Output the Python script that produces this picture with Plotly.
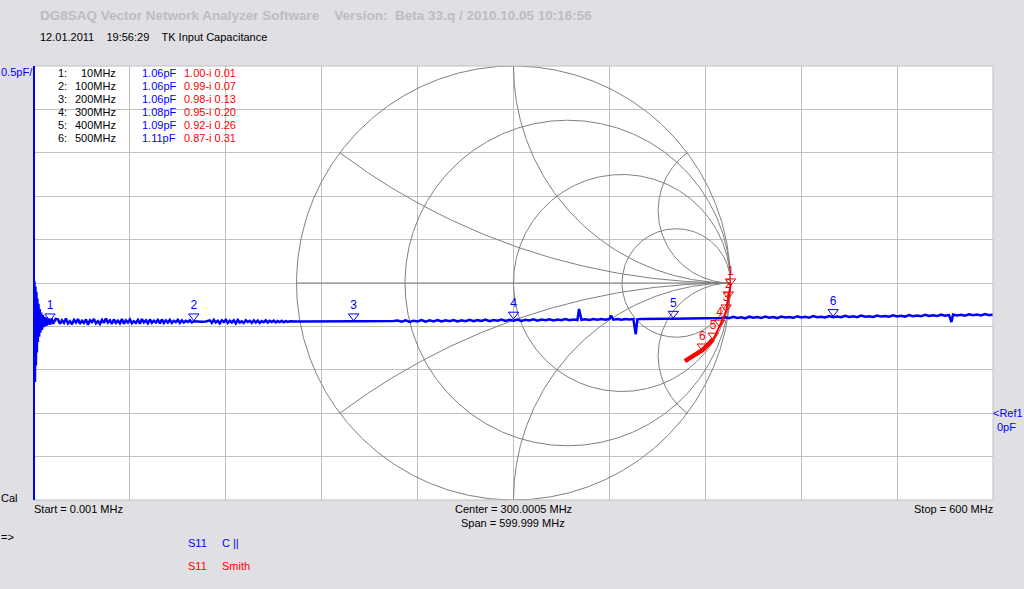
import numpy as np
import plotly.graph_objects as go

# C|| trace in pF (blue): each segment is (start MHz, step MHz, readings)
cap_segments = [
    (0.001, 0, [1.06]),
    (0.3, 0.3, [1.52, 0.36, 1.46, 0.55, 1.40, 0.70, 1.32, 0.82]),
    (2.8, 0.4, [1.26, 0.88, 1.20, 0.93]),
    (4.5, 0.5, [1.16, 0.96, 1.13, 0.99, 1.11, 1.00, 1.10, 1.01]),
    (9, 1, [1.09, 1.02, 1.09, 1.03]),
    (13.5, 0, [1.085]),
    (15, 1.25, [1.08, 1.03, 1.07, 1.04, 1.09, 1.035, 1.06, 1.025, 1.075, 1.045,
                1.085, 1.03, 1.065, 1.04, 1.08, 1.02, 1.07, 1.05, 1.085, 1.035,
                1.06, 1.03, 1.075, 1.04, 1.09, 1.045, 1.07, 1.03, 1.08, 1.04,
                1.065, 1.035, 1.085, 1.03, 1.07, 1.045, 1.08, 1.035, 1.06, 1.04,
                1.075, 1.03, 1.085, 1.045, 1.07, 1.035, 1.08, 1.04, 1.065, 1.045,
                1.075, 1.035, 1.08, 1.04, 1.07, 1.045, 1.075, 1.04, 1.065, 1.05,
                1.075, 1.04, 1.07, 1.045, 1.065, 1.05, 1.07, 1.045, 1.06]),
    (102.5, 2.5, [1.056, 1.055, 1.057]),
    (110, 1.25, [1.07, 1.04, 1.075, 1.045, 1.065, 1.035, 1.07, 1.05, 1.075, 1.04,
                 1.065, 1.045, 1.07, 1.035, 1.075, 1.045, 1.06, 1.04, 1.07, 1.05,
                 1.065, 1.04, 1.07, 1.045, 1.068, 1.04, 1.062, 1.048, 1.07, 1.045,
                 1.064, 1.05, 1.066, 1.045, 1.062, 1.05, 1.065, 1.048, 1.06, 1.052, 1.058]),
    (165, 5, [1.057, 1.056, 1.058, 1.057, 1.058, 1.058, 1.059, 1.058, 1.06, 1.059, 1.061, 1.06, 1.062]),
    (227.5, 2.5, [1.068, 1.055, 1.07, 1.052, 1.066, 1.058, 1.072, 1.054, 1.069, 1.057,
                  1.073, 1.056, 1.07, 1.06, 1.074, 1.057, 1.071, 1.061, 1.076, 1.059,
                  1.072, 1.063, 1.078, 1.06, 1.074, 1.065, 1.079, 1.062, 1.076, 1.066,
                  1.08, 1.064, 1.077, 1.068, 1.082, 1.066, 1.078, 1.07, 1.083, 1.068,
                  1.079, 1.072, 1.084, 1.07, 1.08, 1.074]),
    (341, 0, [1.20]),
    (342.5, 2.5, [1.076, 1.083, 1.074, 1.085, 1.077, 1.084, 1.076, 1.086]),
    (361, 0, [1.125]),
    (362.5, 2.5, [1.078, 1.085, 1.077, 1.086, 1.079, 1.084]),
    (376.5, 0, [0.91]),
    (377.5, 2.5, [1.081, 1.085, 1.084]),
    (385, 5, [1.085, 1.086, 1.087, 1.088, 1.089, 1.09, 1.091, 1.093, 1.094, 1.096]),
    (432.5, 2.5, [1.106, 1.094, 1.11, 1.098, 1.104, 1.093, 1.112, 1.099, 1.108, 1.097,
                  1.113, 1.1, 1.107, 1.096, 1.114, 1.102, 1.109, 1.099, 1.116, 1.103,
                  1.111, 1.101, 1.118, 1.105, 1.112, 1.103, 1.12, 1.107, 1.114, 1.105,
                  1.122, 1.109, 1.116, 1.107, 1.124, 1.111, 1.118, 1.109, 1.126, 1.113,
                  1.12, 1.111, 1.128, 1.115, 1.122, 1.113, 1.13, 1.118, 1.125, 1.116,
                  1.133, 1.12, 1.127, 1.119, 1.135, 1.122, 1.13]),
    (574, 0, [1.05]),
    (575, 2.5, [1.137, 1.126, 1.133, 1.124, 1.14, 1.128, 1.136, 1.127, 1.142, 1.13, 1.134]),
]

# S11 reflection coefficient (red Smith trace)
s11_freq = [0.001, 10, 50, 100, 150, 200, 250, 300, 350, 400, 450, 500, 550, 600]
s11_re = [1.00, 1.00, 0.995, 0.99, 0.985, 0.98, 0.965, 0.95, 0.935, 0.92, 0.895, 0.87, 0.83, 0.79]
s11_im = [0.00, -0.01, -0.04, -0.07, -0.10, -0.13, -0.165, -0.20, -0.23, -0.26, -0.285, -0.31, -0.335, -0.36]

# marker table
mk_freq = [10, 100, 200, 300, 400, 500]
mk_cap = [1.06, 1.06, 1.06, 1.08, 1.09, 1.11]
mk_re = [1.00, 0.99, 0.98, 0.95, 0.92, 0.87]
mk_im = [-0.01, -0.07, -0.13, -0.20, -0.26, -0.31]

# smith chart grid
smith_r = [0, 1/3, 1, 3]
smith_x = [1/3, 1, 3]

BLUE = '#0000FF'
RED = '#FF0000'
FONT = 'Liberation Sans'

# plot area in pixels
L, R, T, B = 34, 993, 66, 500
ratio = (R - L) / (B - T)
def px(x): return (x - L) / (R - L)
def py(y): return (B - y) / (B - T)

freq, cap = [], []
for f0, df, vals in cap_segments:
    for i, v in enumerate(vals):
        freq.append(f0 + i * df)
        cap.append(v)

gx, gy = [], []
t = np.linspace(0, 2 * np.pi, 721)
for r in smith_r:
    c, rad = r / (1 + r), 1 / (1 + r)
    gx += list(c + rad * np.cos(t)) + [None]
    gy += list(rad * np.sin(t)) + [None]
rr = np.concatenate([[0], np.logspace(-3, 3, 400)])
for xv in smith_x:
    for s in (1, -1):
        g = (rr + 1j * s * xv - 1) / (rr + 1j * s * xv + 1)
        gx += list(g.real) + [None]
        gy += list(g.imag) + [None]
gx += [-1, 1]
gy += [0, 0]

fig = go.Figure()
fig.add_trace(go.Scatter(x=gx, y=gy, mode='lines', line=dict(color='#808080', width=1),
                         xaxis='x', yaxis='y', hoverinfo='skip'))

# blue capacitance trace + markers
pf_px = 0.5 / ((B - T) / 10)
fig.add_trace(go.Scatter(x=freq, y=cap, mode='lines', line=dict(color=BLUE, width=2.5),
                         xaxis='x2', yaxis='y2'))
fig.add_trace(go.Scatter(x=mk_freq, y=[c + 5 * pf_px for c in mk_cap], mode='markers',
                         marker=dict(symbol='triangle-down-open', size=9, color=BLUE, line=dict(width=1)),
                         xaxis='x2', yaxis='y2'))
fig.add_trace(go.Scatter(x=mk_freq, y=[c + 15 * pf_px for c in mk_cap], mode='text',
                         text=[str(i + 1) for i in range(6)], textposition='middle center',
                         textfont=dict(family=FONT, size=12, color=BLUE),
                         xaxis='x2', yaxis='y2'))

# red smith trace + markers
g_px = 2 / (B - T)
thick = [i for i, f in enumerate(s11_freq) if f >= 400]
fig.add_trace(go.Scatter(x=s11_re, y=s11_im, mode='lines', line=dict(color=RED, width=2),
                         xaxis='x3', yaxis='y3'))
fig.add_trace(go.Scatter(x=[s11_re[i] for i in thick], y=[s11_im[i] for i in thick], mode='lines',
                         line=dict(color=RED, width=4.5), xaxis='x3', yaxis='y3'))
fig.add_trace(go.Scatter(x=mk_re, y=[v + 4 * g_px for v in mk_im], mode='markers',
                         marker=dict(symbol='triangle-down-open', size=9, color=RED, line=dict(width=1)),
                         xaxis='x3', yaxis='y3'))
fig.add_trace(go.Scatter(x=mk_re, y=[v + 13 * g_px for v in mk_im], mode='text',
                         text=[str(i + 1) for i in range(6)], textposition='middle center',
                         textfont=dict(family=FONT, size=12, color=RED),
                         xaxis='x3', yaxis='y3'))

ann = []
def txt(x, y, s, color='black', anchor='left', size=11):
    ann.append(dict(x=px(x), y=py(y), xref='paper', yref='paper', text=s, showarrow=False,
                    xanchor=anchor, yanchor='middle', borderpad=0,
                    font=dict(family=FONT, size=size, color=color)))

nb = '\u00a0'
txt(39, 16, '<b>DG8SAQ Vector Network Analyzer Software' + nb * 4 + 'Version:' + nb * 2
    + 'Beta 33.q / 2010.10.05 10:16:56</b>', color='#BDBDBD', size=13.5)
txt(39, 37, '12.01.2011' + nb * 4 + '19:56:29' + nb * 4 + 'TK Input Capacitance', size=11)
txt(0, 72, '0.5pF/', color=BLUE)
for i in range(6):
    yy = 73 + 13 * i
    txt(57, yy, f'{i + 1}:')
    txt(117, yy, f'{mk_freq[i]}MHz', anchor='right')
    txt(141, yy, f'{mk_cap[i]:.2f}pF', color=BLUE)
    txt(183, yy, f'{mk_re[i]:.2f}-i {abs(mk_im[i]):.2f}', color=RED)
txt(0, 498, 'Cal')
txt(33, 509, f'Start = {freq[0]} MHz')
txt(513, 509, f'Center = {(freq[0] + freq[-1]) / 2:.4f} MHz', anchor='center')
txt(513, 523, f'Span = {freq[-1] - freq[0]:.3f} MHz', anchor='center')
txt(994, 509, f'Stop = {freq[-1]:g} MHz', anchor='right')
txt(0, 537, '=>')
txt(187, 543, 'S11', color=BLUE)
txt(221, 543, 'C ||', color=BLUE)
txt(187, 566, 'S11', color=RED)
txt(221, 566, 'Smith', color=RED)
txt(992, 413, '&lt;Ref1', color=BLUE)
txt(996, 427, '0pF', color=BLUE)

fig.update_layout(
    width=1024, height=589,
    margin=dict(l=L, r=1024 - R, t=T, b=589 - B, pad=0),
    paper_bgcolor='#E0DFE3', plot_bgcolor='white',
    showlegend=False, hovermode=False,
    xaxis=dict(range=[-ratio, ratio], visible=False, fixedrange=True),
    yaxis=dict(range=[-1, 1], visible=False, fixedrange=True),
    xaxis2=dict(range=[freq[0], freq[-1]], overlaying='x', anchor='y2',
                tickvals=list(np.linspace(freq[0], freq[-1], 11)), showticklabels=False,
                showgrid=True, gridcolor='#C0C0C0', gridwidth=1, zeroline=False, ticks=''),
    yaxis2=dict(range=[-1, 4], overlaying='y', anchor='x2',
                tickvals=[-1 + 0.5 * k for k in range(11)], showticklabels=False,
                showgrid=True, gridcolor='#C0C0C0', gridwidth=1, zeroline=False, ticks=''),
    xaxis3=dict(range=[-ratio, ratio], overlaying='x', anchor='y3', visible=False),
    yaxis3=dict(range=[-1, 1], overlaying='y', anchor='x3', visible=False),
    annotations=ann,
    shapes=[
        dict(type='rect', xref='paper', yref='paper', x0=0, x1=1, y0=0, y1=1,
             line=dict(color='#C0C0C0', width=1)),
        dict(type='line', xref='paper', yref='paper', x0=0, x1=0, y0=0, y1=1,
             line=dict(color=BLUE, width=2)),
    ],
)

fig.write_html('out.html', config={'displayModeBar': False},
               post_script="document.body.style.margin='0';document.body.style.overflow='hidden';")
